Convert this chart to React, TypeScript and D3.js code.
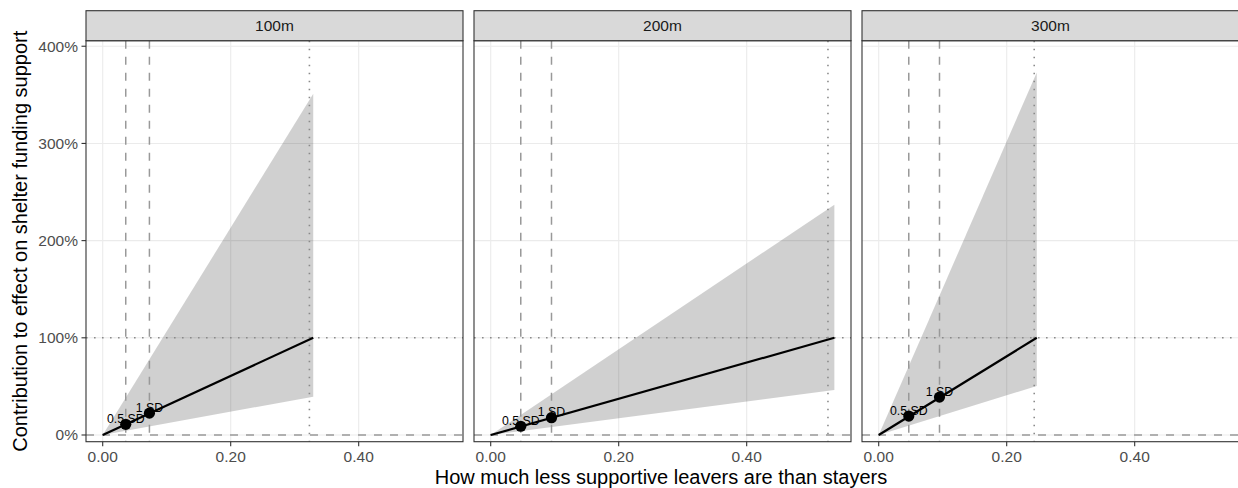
import React from "react";
import * as d3 from "d3";

// ---- data ----
const panels = ["100m", "200m", "300m"];
// fitted line: from origin to end
const lineX = [
  [0, 0.329],
  [0, 0.537],
  [0, 0.247],
];
const lineY = [
  [0, 1.0],
  [0, 1.0],
  [0, 1.0],
];
// ribbon bounds at the same x positions
const ribbonLower = [
  [0, 0.394],
  [0, 0.463],
  [0, 0.504],
];
const ribbonUpper = [
  [0, 3.51],
  [0, 2.37],
  [0, 3.73],
];
// SD markers
const sdLabels = ["0.5 SD", "1 SD"];
const sdX = [
  [0.036, 0.073],
  [0.047, 0.095],
  [0.047, 0.095],
];
const sdY = [
  [0.11, 0.225],
  [0.09, 0.178],
  [0.195, 0.39],
];
// vertical dotted line at x where contribution = 100%
const dottedX = [0.323, 0.527, 0.243];
const refY = [0, 1]; // dashed at 0%, dotted at 100%
const xTicks = [0, 0.2, 0.4];
const yTicks = [0, 1, 2, 3, 4];

const W = 1238;
const H = 488;
const panelLefts = [86, 474, 862];
const panelW = 377;
const panelTop = 40.7;
const panelBottom = 441.7;
const stripTop = 10.7;
const FONT = "'Liberation Sans', Arial, Helvetica, sans-serif";

export default function App() {
  const x = d3.scaleLinear().domain([-0.0261, 0.563]).range([0, panelW]);
  const y = d3.scaleLinear().domain([-0.069, 4.057]).range([panelBottom, panelTop]);
  const fmtX = d3.format(".2f");
  const fmtY = (v: number) => `${Math.round(v * 100)}%`;

  return (
    <svg width={W} height={H} style={{ display: "block", position: "absolute", left: 0, top: 0 }} fontFamily={FONT}>
      <defs>
        {panels.map((_, i) => (
          <clipPath id={`clip${i}`} key={i}>
            <rect x={0} y={panelTop} width={panelW} height={panelBottom - panelTop} />
          </clipPath>
        ))}
      </defs>
      <rect x={0} y={0} width={W} height={H} fill="#fff" />
      {panels.map((p, i) => {
        const pts = lineX[i].map((xv, j) => ({ x: xv, lo: ribbonLower[i][j], hi: ribbonUpper[i][j], y: lineY[i][j] }));
        const area = d3
          .area<{ x: number; lo: number; hi: number }>()
          .x((d) => x(d.x))
          .y0((d) => y(d.lo))
          .y1((d) => y(d.hi));
        const line = d3
          .line<{ x: number; y: number }>()
          .x((d) => x(d.x))
          .y((d) => y(d.y));
        return (
          <g key={p} transform={`translate(${panelLefts[i]},0)`}>
            <rect x={0} y={panelTop} width={panelW} height={panelBottom - panelTop} fill="#fff" />
            <g clipPath={`url(#clip${i})`}>
              {yTicks.map((t) => (
                <line key={"gy" + t} x1={0} x2={panelW} y1={y(t)} y2={y(t)} stroke="#EBEBEB" strokeWidth={1.1} />
              ))}
              {xTicks.map((t) => (
                <line key={"gx" + t} x1={x(t)} x2={x(t)} y1={panelTop} y2={panelBottom} stroke="#EBEBEB" strokeWidth={1.1} />
              ))}
              <path d={area(pts) || ""} fill="#000" fillOpacity={0.185} />
              {sdX[i].map((v, j) => (
                <line key={"vd" + j} x1={x(v)} x2={x(v)} y1={panelTop} y2={panelBottom} stroke="#999" strokeWidth={1.5} strokeDasharray="8 8" />
              ))}
              <line x1={x(dottedX[i])} x2={x(dottedX[i])} y1={panelTop} y2={panelBottom} stroke="#8a8a8a" strokeWidth={1.6} strokeDasharray="1.6 6.4" />
              <line x1={0} x2={panelW} y1={y(refY[0])} y2={y(refY[0])} stroke="#999" strokeWidth={1.6} strokeDasharray="8 8" />
              <line x1={0} x2={panelW} y1={y(refY[1])} y2={y(refY[1])} stroke="#8a8a8a" strokeWidth={1.6} strokeDasharray="1.6 6.4" />
              <path d={line(pts) || ""} fill="none" stroke="#000" strokeWidth={2.2} />
              {sdX[i].map((v, j) => (
                <text key={"t" + j} x={x(v)} y={y(sdY[i][j]) - 1.5} textAnchor="middle" fontSize={12.3} fill="#000">
                  {sdLabels[j]}
                </text>
              ))}
              {sdX[i].map((v, j) => (
                <circle key={"c" + j} cx={x(v)} cy={y(sdY[i][j])} r={5.6} fill="#000" />
              ))}
            </g>
            <rect x={0} y={panelTop} width={panelW} height={panelBottom - panelTop} fill="none" stroke="#333" strokeWidth={1.1} />
            {/* strip */}
            <rect x={0} y={stripTop} width={panelW} height={panelTop - stripTop} fill="#D9D9D9" stroke="#333" strokeWidth={1.1} />
            <text x={panelW / 2} y={(stripTop + panelTop) / 2} dy="0.35em" textAnchor="middle" fontSize={15.5} fill="#1A1A1A">
              {p}
            </text>
            {/* x axis */}
            {xTicks.map((t) => (
              <g key={"xt" + t}>
                <line x1={x(t)} x2={x(t)} y1={panelBottom} y2={panelBottom + 4.5} stroke="#333" strokeWidth={1.1} />
                <text x={x(t)} y={panelBottom + 20.5} textAnchor="middle" fontSize={15.5} fill="#4D4D4D">
                  {fmtX(t)}
                </text>
              </g>
            ))}
            {/* y axis on first panel */}
            {i === 0 &&
              yTicks.map((t) => (
                <g key={"yt" + t}>
                  <line x1={-4.5} x2={0} y1={y(t)} y2={y(t)} stroke="#333" strokeWidth={1.1} />
                  <text x={-8} y={y(t)} dy="0.35em" textAnchor="end" fontSize={15.5} fill="#4D4D4D">
                    {fmtY(t)}
                  </text>
                </g>
              ))}
          </g>
        );
      })}
      <text x={661} y={484} textAnchor="middle" fontSize={20} fill="#000">
        How much less supportive leavers are than stayers
      </text>
      <text
        transform={`translate(27,${(panelTop + panelBottom) / 2}) rotate(-90)`}
        textAnchor="middle"
        fontSize={20}
        fill="#000"
      >
        Contribution to effect on shelter funding support
      </text>
    </svg>
  );
}
